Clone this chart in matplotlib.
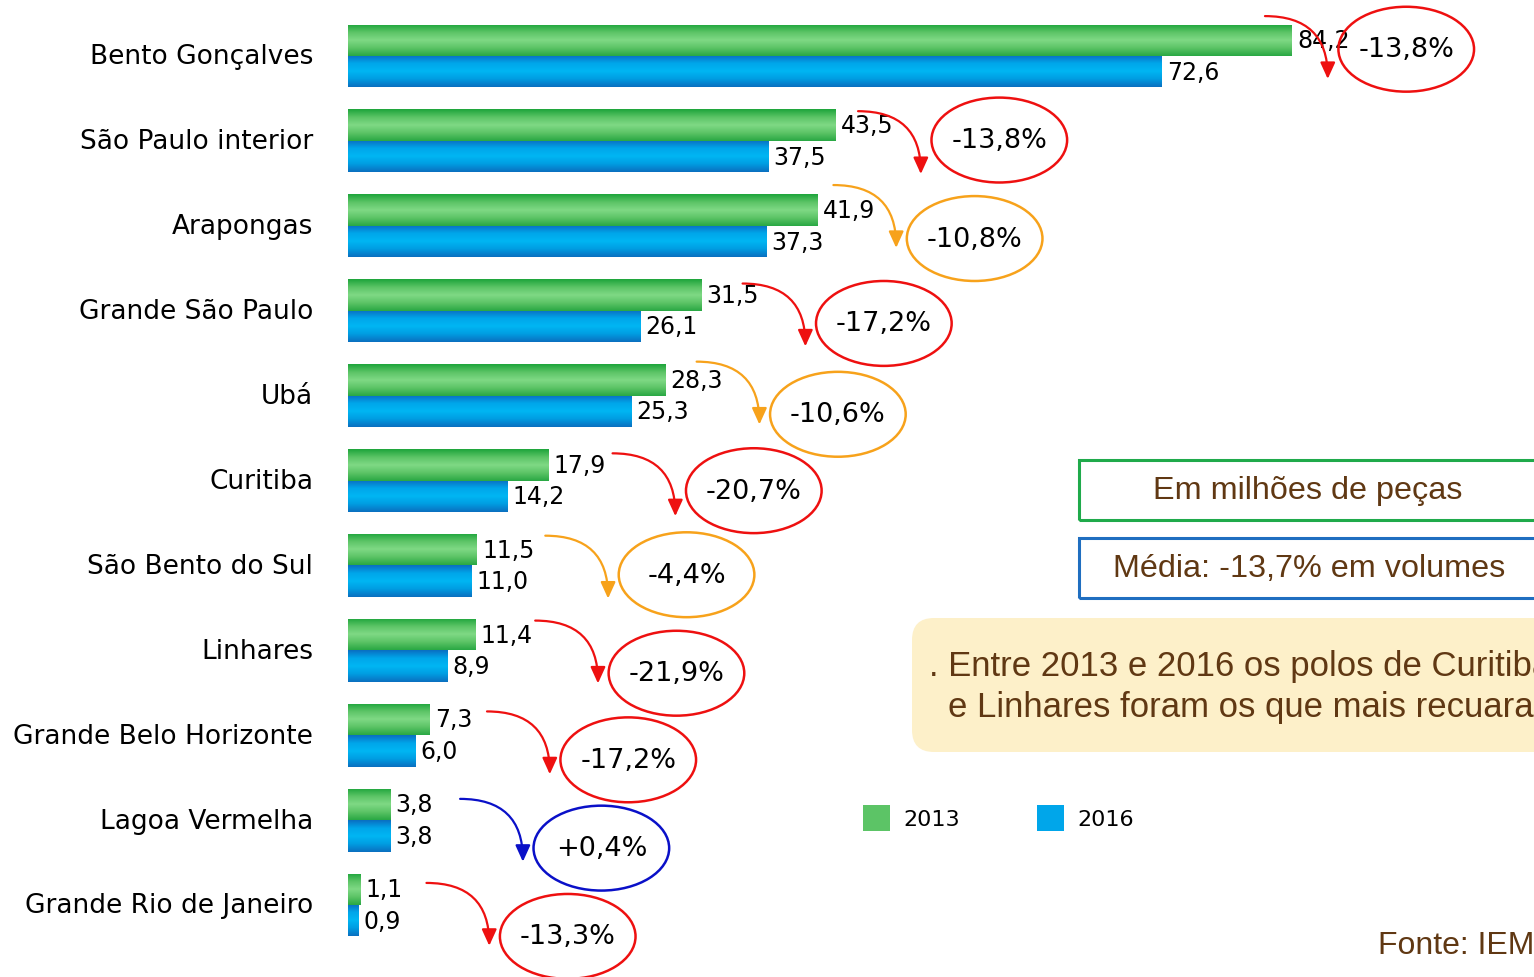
import numpy as np
import matplotlib
matplotlib.use("Agg")
from matplotlib import pyplot as plt
from matplotlib.patches import Ellipse, Rectangle, FancyBboxPatch, Patch
from matplotlib.colors import LinearSegmentedColormap

W, H = 1534, 978

categories = ['Bento Gonçalves', 'São Paulo interior', 'Arapongas', 'Grande São Paulo', 'Ubá',
              'Curitiba', 'São Bento do Sul', 'Linhares', 'Grande Belo Horizonte',
              'Lagoa Vermelha', 'Grande Rio de Janeiro']
vol_2013 = [84.2, 43.5, 41.9, 31.5, 28.3, 17.9, 11.5, 11.4, 7.3, 3.8, 1.1]
vol_2016 = [72.6, 37.5, 37.3, 26.1, 25.3, 14.2, 11.0, 8.9, 6.0, 3.8, 0.9]
variacao = [-13.8, -13.8, -10.8, -17.2, -10.6, -20.7, -4.4, -21.9, -17.2, 0.4, -13.3]
legend_labels = ['2013', '2016']

# layout of the hand-placed arrows / ellipses (data units)
arrow_x = [81.8, 45.5, 43.3, 35.2, 31.1, 23.6, 17.6, 16.7, 12.4, 10.0, 7.0]
arrow_dy = [-0.47, -0.35, -0.48, -0.32, -0.40, -0.32, -0.35, -0.35, -0.28, -0.25, -0.26]
ellipse_dy = [-0.08, -0.01, 0.15, 0.15, 0.22, 0.12, 0.11, 0.27, 0.29, 0.33, 0.37]

BROWN = '#603813'


def fmt(v):
    return f"{v:.1f}".replace('.', ',')


def fmt_pct(v):
    if v > 0:
        return '+' + fmt(v) + '%'
    return fmt(v) + '%'


def change_color(v):
    if v > 0:
        return '#0a10c8'
    if v > -12:
        return '#f7a21b'
    return '#ee1010'


def inch(px, py):
    return px / 100, (H - py) / 100


fig = plt.figure(figsize=(W / 100, H / 100), dpi=100)
ax = fig.add_axes([348 / W, 0, (W - 348) / W, 1])

px_per_unit = 11.21
n = len(categories)
y = np.arange(n)
h = 0.37

green_bars = ax.barh(y - h / 2, vol_2013, height=h, color='#4cbc5a', zorder=1)
blue_bars = ax.barh(y + h / 2, vol_2016, height=h, color='#00a6ea', zorder=1)

green_cmap = LinearSegmentedColormap.from_list('g', ['#1ea53c', '#5cc466', '#7fd985', '#5cc466', '#2aa844'])
blue_cmap = LinearSegmentedColormap.from_list('b', ['#0a6fc2', '#00a6ea', '#00b6f3', '#009de2', '#0b70c0'])
grad = np.linspace(0, 1, 64).reshape(-1, 1)


def paint(bars, cmap):
    for r in bars:
        x0, y0, w, hh = r.get_x(), r.get_y(), r.get_width(), r.get_height()
        im = ax.imshow(grad, cmap=cmap, extent=[x0, x0 + w, y0 + hh, y0], aspect='auto',
                       zorder=2, interpolation='bilinear')
        im.set_clip_path(r)


paint(green_bars, green_cmap)
paint(blue_bars, blue_cmap)

for i in range(n):
    ax.text(vol_2013[i] + 0.45, i - h / 2, fmt(vol_2013[i]), va='center', ha='left', fontsize=17, zorder=5)
    ax.text(vol_2016[i] + 0.45, i + h / 2, fmt(vol_2016[i]), va='center', ha='left', fontsize=17, zorder=5)

    c = change_color(variacao[i])
    x0, y0 = arrow_x[i], i + arrow_dy[i]
    x1, y1 = x0 + 5.6, y0 + 0.74
    ax.annotate('', xy=(x1, y1), xytext=(x0, y0),
                arrowprops=dict(arrowstyle='-|>,head_length=0.55,head_width=0.25', color=c, lw=1.6,
                                mutation_scale=18, shrinkA=0, shrinkB=0,
                                connectionstyle='angle3,angleA=0,angleB=90'), zorder=6)
    cx, cy = x1 + 7.0, i + ellipse_dy[i]
    ax.add_patch(Ellipse((cx, cy), width=12.1, height=1.0, fill=False, edgecolor=c, lw=1.8, zorder=6))
    ax.text(cx, cy, fmt_pct(variacao[i]), ha='center', va='center', fontsize=19.5, zorder=7)

ax.set_xlim(0, (W - 348) / px_per_unit)
ax.set_ylim((H - 57) / 84.9, -57 / 84.9)
ax.set_yticks(y - 0.03)
ax.set_yticklabels(categories, fontsize=19)
ax.tick_params(axis='y', length=0, pad=25)
ax.tick_params(axis='x', length=0, labelbottom=False)
ax.set_frame_on(False)

# legend
handles = [Patch(facecolor='#5cc466'), Patch(facecolor='#00a6ea')]
fig.legend(handles, legend_labels, loc='center left', bbox_to_anchor=(863 / W, 1 - 819 / H),
           ncol=2, frameon=False, fontsize=16, handlelength=1.2, handleheight=1.4,
           handletextpad=0.6, columnspacing=3.5, borderpad=0, borderaxespad=0)

# text boxes on the right
tr = fig.dpi_scale_trans
fig.add_artist(Rectangle(inch(1079, 521), 6.0, 0.6, transform=tr, fill=False,
                         edgecolor='#1faa4b', lw=2.2))
fig.add_artist(Rectangle(inch(1079, 599), 6.0, 0.6, transform=tr, fill=False,
                         edgecolor='#1f6ec0', lw=2.2))
fig.add_artist(FancyBboxPatch(inch(912, 753), 7.0, 1.34, transform=tr,
                              boxstyle='round,pad=0,rounding_size=0.22',
                              facecolor='#fdf0c9', edgecolor='none'))

fig.text(*inch(1308, 491), 'Em milhões de peças', transform=tr, ha='center', va='center',
         fontsize=23.3, color=BROWN, family='Liberation Sans')
fig.text(*inch(1309, 569), 'Média: -13,7% em volumes', transform=tr, ha='center', va='center',
         fontsize=23.3, color=BROWN, family='Liberation Sans')
fig.text(*inch(929, 667), '. Entre 2013 e 2016 os polos de Curitiba', transform=tr, ha='left',
         va='center', fontsize=25, color=BROWN, family='Liberation Sans')
fig.text(*inch(948, 708), 'e Linhares foram os que mais recuaram', transform=tr, ha='left',
         va='center', fontsize=25, color=BROWN, family='Liberation Sans')
fig.text(*inch(1378, 946), 'Fonte: IEMI', transform=tr, ha='left', va='center',
         fontsize=23, color=BROWN, family='Liberation Sans')

fig.savefig('out.png', dpi=100)
